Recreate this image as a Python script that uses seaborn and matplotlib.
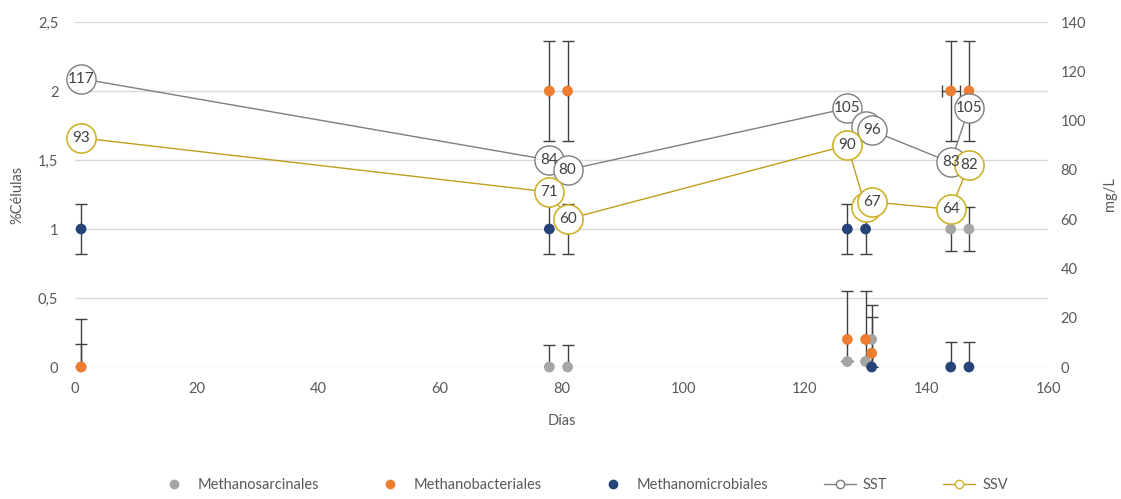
import numpy as np
import pandas as pd
import seaborn as sns
import matplotlib.pyplot as plt
from matplotlib.lines import Line2D
from matplotlib.ticker import FuncFormatter

# Días de muestreo
dias = [1, 78, 81, 127, 130, 131, 144, 147]

# %Células por orden
methanosarcinales = [0, 0, 0, 0.04, 0.04, 0.2, 1, 1]
err_sarcinales = [0.17, 0.16, 0.16, 0, 0, 0.25, 0.16, 0.16]
methanobacteriales = [0, 2, 2, 0.2, 0.2, 0.1, 2, 2]
err_bacteriales = [0.35, 0.36, 0.36, 0.35, 0.35, 0.26, 0.36, 0.36]
xerr_bacteriales = [0, 0, 0, 0, 0, 0, 1.5, 0]
methanomicrobiales = [1, 1, 1, 1, 1, 0, 0, 0]
err_microbiales = [0.18, 0.18, 0.18, 0.18, 0.18, 0, 0.18, 0.18]

# Sólidos (mg/L)
sst = [117, 84, 80, 105, 98, 96, 83, 105]
ssv = [93, 71, 60, 90, 65, 67, 64, 82]
etiquetas_sst = ['117', '84', '80', '105', '', '96', '83', '105']
etiquetas_ssv = ['93', '71', '60', '90', '', '67', '64', '82']

col_sarc = '#a5a5a5'
col_bact = '#ed7d31'
col_micro = '#264478'
col_sst = '#7f7f7f'
col_ssv = '#bf9f1a'
col_ssv_edge = '#cfb22c'
col_txt = '#595959'

sns.set_theme(style="white")
plt.rcParams['font.family'] = ['Lato', 'DejaVu Sans']

df_cel = pd.DataFrame({
    'Días': dias * 3,
    'Valor': methanosarcinales + methanobacteriales + methanomicrobiales,
    'Orden': ['Methanosarcinales'] * 8 + ['Methanobacteriales'] * 8 + ['Methanomicrobiales'] * 8,
})
df_sol = pd.DataFrame({'Días': dias, 'SST': sst, 'SSV': ssv})

fig = plt.figure(figsize=(11.21, 4.99), dpi=100)
ax = fig.add_axes([0.0669, 0.2645, 0.8680, 0.6914])

# barras de error
for vals, err, xerr in [(methanosarcinales, err_sarcinales, None),
                        (methanobacteriales, err_bacteriales, xerr_bacteriales),
                        (methanomicrobiales, err_microbiales, None)]:
    ax.errorbar(dias, vals, yerr=err, xerr=xerr, fmt='none', ecolor='#404040',
                elinewidth=1, capsize=4, capthick=1, zorder=2)

sns.scatterplot(data=df_cel, x='Días', y='Valor', hue='Orden',
                palette=[col_sarc, col_bact, col_micro], s=60, linewidth=0,
                legend=False, ax=ax, zorder=3, clip_on=False)

ax.set_xlim(0, 160)
ax.set_ylim(0, 2.5)
ax.set_xticks(np.arange(0, 161, 20))
ax.set_yticks(np.arange(0, 2.51, 0.5))
ax.yaxis.set_major_formatter(FuncFormatter(lambda v, p: f"{v:g}".replace('.', ',')))
ax.grid(axis='y', color='#d9d9d9', linewidth=1)
ax.set_axisbelow(True)
ax.tick_params(axis='both', length=0, labelsize=10.5, labelcolor=col_txt)
ax.tick_params(axis='y', pad=12)
ax.tick_params(axis='x', pad=11)
ax.set_xlabel('Días', fontsize=10.5, color=col_txt)
ax.set_ylabel('%Células', fontsize=10.5, color=col_txt)
ax.xaxis.set_label_coords(0.5, -0.135)
ax.yaxis.set_label_coords(-0.052, 0.5)
for s in ax.spines.values():
    s.set_visible(False)

# eje secundario
ax2 = ax.twinx()
sns.lineplot(data=df_sol, x='Días', y='SST', color=col_sst, linewidth=1, marker='o',
             markersize=21, markerfacecolor='white', markeredgecolor=col_sst,
             markeredgewidth=1, sort=False, ax=ax2, zorder=4, clip_on=False)
sns.lineplot(data=df_sol, x='Días', y='SSV', color=col_ssv, linewidth=1, marker='o',
             markersize=21, markerfacecolor='white', markeredgecolor=col_ssv_edge,
             markeredgewidth=1.2, sort=False, ax=ax2, zorder=5, clip_on=False)
for x, y, t in zip(dias, sst, etiquetas_sst):
    ax2.text(x, y, t, ha='center', va='center', fontsize=11, color='#404040', zorder=6)
for x, y, t in zip(dias, ssv, etiquetas_ssv):
    ax2.text(x, y, t, ha='center', va='center', fontsize=11, color='#404040', zorder=7)

ax2.set_ylim(0, 140)
ax2.set_yticks(np.arange(0, 141, 20))
ax2.tick_params(axis='y', length=0, labelsize=10.5, labelcolor=col_txt, pad=9)
ax2.set_ylabel('mg/L', fontsize=10.5, color=col_txt)
ax2.yaxis.set_label_coords(1.057, 0.5)
ax2.grid(False)
for s in ax2.spines.values():
    s.set_visible(False)

handles = [
    Line2D([], [], linestyle='none', marker='o', markersize=6, color=col_sarc),
    Line2D([], [], linestyle='none', marker='o', markersize=6, color=col_bact),
    Line2D([], [], linestyle='none', marker='o', markersize=6, color=col_micro),
    Line2D([], [], color=col_sst, linewidth=1, marker='o', markersize=6,
           markerfacecolor='white', markeredgecolor=col_sst),
    Line2D([], [], color=col_ssv, linewidth=1, marker='o', markersize=6,
           markerfacecolor='white', markeredgecolor=col_ssv_edge),
]
labels = ['Methanosarcinales', 'Methanobacteriales', 'Methanomicrobiales', 'SST', 'SSV']
leg = fig.legend(handles, labels, loc='center', bbox_to_anchor=(0.52, 0.028), ncol=5,
                 frameon=False, fontsize=10.5, columnspacing=3.8, handletextpad=0.5,
                 handlelength=2.2)
for t in leg.get_texts():
    t.set_color(col_txt)

fig.savefig('out.png', dpi=100)
